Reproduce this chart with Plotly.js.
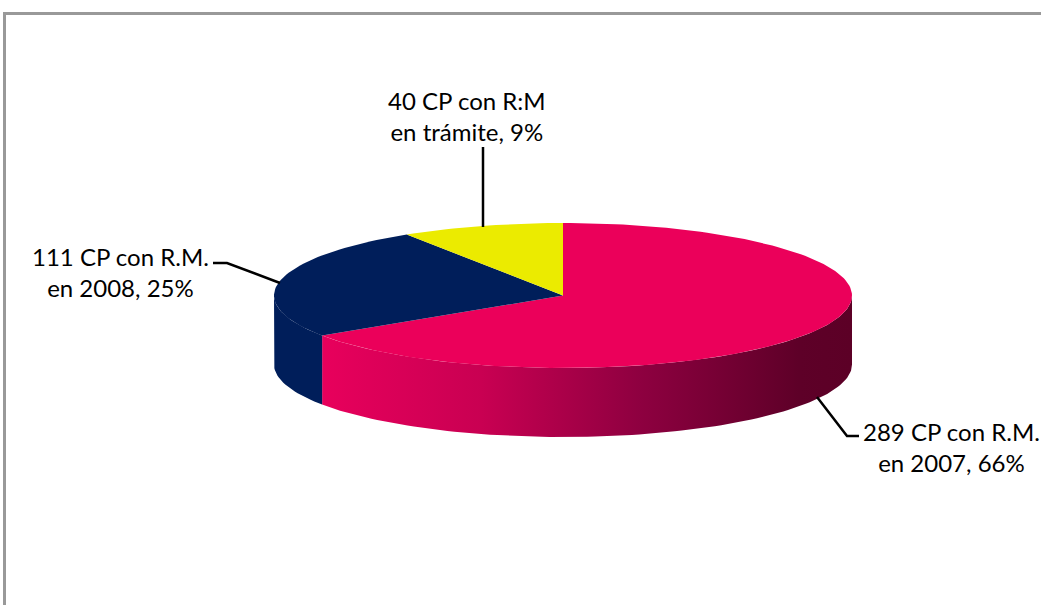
<!DOCTYPE html>
<html>
<head>
<meta charset="utf-8">
<script src="https://cdn.plot.ly/plotly-3.0.1.min.js"></script>
<style>
  html, body { margin: 0; padding: 0; background: #ffffff; }
  #chart { width: 1041px; height: 605px; }
</style>
</head>
<body>
<div id="chart"></div>
<script>
// Centros de profesores (CP) por año de reconocimiento (R.M.)
const categories = ["CP con R.M.<br>en 2007", "CP con R.M.<br>en 2008", "CP con R:M<br>en trámite"];
const values = [289, 111, 40];

// Styles for the top faces and side walls of each slice
const topColors = ["#EB005A", "#001E5A", "#EBEB00"];
const sideScales = [
  [[0, "#E8005C"], [0.3, "#C90052"], [0.6, "#8E0040"], [0.9, "#5E0028"], [1, "#5C0026"]],
  [[0, "#001E5A"], [1, "#001E5A"]],
  [[0, "#D4D400"], [1, "#9A9A00"]]
];

// Drawing geometry of the tilted pie (axis units equal screen pixels)
const PIE = { cx: 563, cy: 295.5, rx: 289, ry: 72.5, depth: 69 };
const STEPS = 240;

function point(theta, dy) {
  return [PIE.cx + PIE.rx * Math.sin(theta), PIE.cy - PIE.ry * Math.cos(theta) + dy];
}

function arc(a, b, dy) {
  const n = Math.max(2, Math.ceil(Math.abs(b - a) / (2 * Math.PI) * STEPS));
  const pts = [];
  for (let i = 0; i <= n; i++) {
    pts.push(point(a + (b - a) * i / n, dy));
  }
  return pts;
}

const total = values.reduce((s, v) => s + v, 0);
const slices = [];
let acc = 0;
values.forEach((v, i) => {
  const a = acc / total * 2 * Math.PI;
  acc += v;
  const b = acc / total * 2 * Math.PI;
  slices.push({ a, b, i });
});

const sideTraces = [];
const topTraces = [];

slices.forEach(s => {
  // Side wall: only the front half (between 90° and 270°) is visible
  const lo = Math.max(s.a, Math.PI / 2);
  const hi = Math.min(s.b, 3 * Math.PI / 2);
  if (hi > lo) {
    const upper = arc(lo, hi, 0);
    const lower = arc(hi, lo, PIE.depth);
    const poly = upper.concat(lower);
    poly.push(upper[0]);
    sideTraces.push({
      type: "scatter", mode: "lines",
      x: poly.map(p => p[0]), y: poly.map(p => p[1]),
      fill: "toself",
      fillcolor: topColors[s.i],
      fillgradient: { type: "horizontal", colorscale: sideScales[s.i] },
      line: { width: 0, color: "rgba(0,0,0,0)" },
      hoverinfo: "skip", showlegend: false
    });
  }
  // Top face
  const top = [[PIE.cx, PIE.cy]].concat(arc(s.a, s.b, 0));
  top.push([PIE.cx, PIE.cy]);
  topTraces.push({
    type: "scatter", mode: "lines",
    x: top.map(p => p[0]), y: top.map(p => p[1]),
    fill: "toself",
    fillcolor: topColors[s.i],
    line: { width: 0, color: "rgba(0,0,0,0)" },
    hoverinfo: "skip", showlegend: false
  });
});

// Data labels: value, category, share
const labelPos = [
  { x: 951, y: 446.5 },
  { x: 120, y: 272 },
  { x: 467, y: 116 }
];
const annotations = values.map((v, i) => ({
  text: v + " " + categories[i] + ", " + Math.round(v / total * 100) + "%",
  x: labelPos[i].x, y: labelPos[i].y,
  xref: "x", yref: "y",
  xanchor: "center", yanchor: "middle",
  align: "center",
  showarrow: false,
  font: { family: "Lato, 'Liberation Sans', sans-serif", size: 24, color: "#000000" }
}));

const leader = { type: "path", xref: "x", yref: "y", line: { color: "#000000", width: 2.5 } };
const shapes = [
  Object.assign({}, leader, { path: "M 817 397 L 847 436 L 859 436" }),
  Object.assign({}, leader, { path: "M 213 263 L 227 263 L 280 283" }),
  Object.assign({}, leader, { path: "M 483 147 L 483 227" }),
  // chart area frame
  { type: "path", xref: "x", yref: "y", path: "M 4.5 610 L 4.5 13.5 L 1050 13.5",
    line: { color: "#999999", width: 3 } }
];

const layout = {
  width: 1041, height: 605,
  margin: { l: 0, r: 0, t: 0, b: 0 },
  paper_bgcolor: "#ffffff", plot_bgcolor: "#ffffff",
  xaxis: { range: [0, 1041], visible: false, fixedrange: true },
  yaxis: { range: [605, 0], visible: false, fixedrange: true },
  showlegend: false,
  annotations: annotations,
  shapes: shapes
};

Plotly.newPlot("chart", sideTraces.concat(topTraces), layout, { staticPlot: true, displayModeBar: false });
</script>
</body>
</html>
